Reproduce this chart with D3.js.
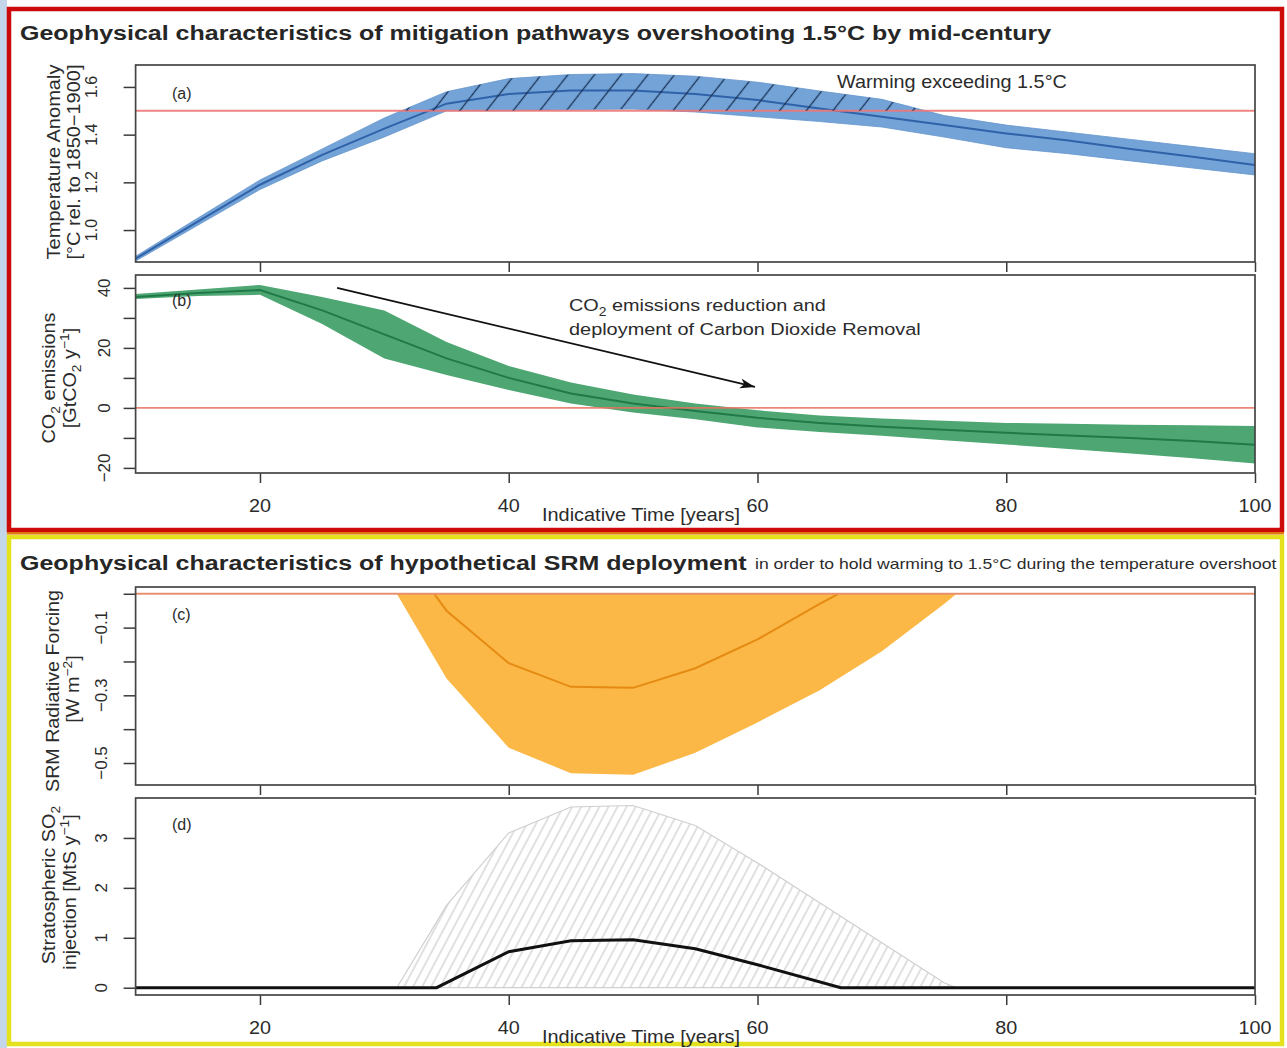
<!DOCTYPE html>
<html><head><meta charset="utf-8">
<script src="https://cdn.jsdelivr.net/npm/d3@7"></script>
<style>
body{margin:0;background:#fff}
svg{display:block}
text{font-family:"Liberation Sans",Arial,Helvetica,sans-serif;fill:#2b2b2b}
</style>
</head><body>
<svg id="chart" width="1287" height="1048"></svg>
<script>
// ---------------- data ----------------
const years = [10,15,20,25,30,35,40,45,50,55,60,65,70,75,80,85,90,95,100];
const tempMedian = [0.88,1.035,1.19,1.315,1.425,1.53,1.57,1.585,1.585,1.57,1.545,1.51,1.475,1.44,1.405,1.375,1.34,1.307,1.273];
const tempUpper  = [0.89,1.05,1.21,1.34,1.47,1.58,1.635,1.652,1.656,1.645,1.62,1.583,1.548,1.48,1.44,1.41,1.38,1.35,1.32];
const tempLower  = [0.87,1.02,1.17,1.29,1.39,1.50,1.50,1.505,1.507,1.495,1.475,1.455,1.432,1.39,1.345,1.32,1.29,1.26,1.231];
const tempThreshold = 1.5;

const co2Median = [37,38.3,39.3,32.5,24.5,16.5,10,4.8,1.5,-1,-3.3,-5,-6.3,-7.3,-8.3,-9.2,-10,-11,-12.3];
const co2Upper  = [38,39.5,41,37,32.5,22,14,8.5,4.5,1.5,-0.8,-2.5,-3.5,-4.3,-5,-5.3,-5.6,-5.8,-6];
const co2Lower  = [36.3,37.3,37.7,28,16.5,11,6,1.5,-1.5,-3.8,-6.5,-8,-9.3,-10.8,-12.2,-13.7,-15.2,-16.8,-18.5];
const co2Zero = 0;
const arrowFrom = [26.2, 40];
const arrowTo   = [59.8, 7];

const srmBandYears = [31,35,40,45,50,55,60,65,70,75,76];
const srmBandMin   = [0,-0.25,-0.455,-0.53,-0.535,-0.47,-0.38,-0.285,-0.17,-0.03,0];
const srmMedianYears = [34,35,40,45,50,55,60,65,66.5];
const srmMedian      = [0,-0.05,-0.205,-0.275,-0.278,-0.22,-0.135,-0.03,0];

const so2BandYears = [31,35,40,45,50,55,60,65,70,75,76];
const so2BandMax   = [0,1.65,3.1,3.62,3.65,3.25,2.5,1.7,0.9,0.1,0];
const so2MedianYears = [10,34.2,40,45,50,55,60,66.7,100];
const so2Median      = [0,0,0.72,0.94,0.96,0.78,0.46,0,0];

const xDomain = [10,100];
const xTicks = [20,40,60,80,100];
const tempDomain = [0.866,1.692], tempTicks = [1.0,1.2,1.4,1.6], tempLabels = [1.0,1.2,1.4,1.6];
const co2Domain = [-21.7,44.3], co2Ticks = [-20,-10,0,10,20,30,40], co2Labels = [-20,0,20,40];
const srmDomain = [-0.565,0.02], srmTicks = [0,-0.1,-0.2,-0.3,-0.4,-0.5], srmLabels = [-0.1,-0.3,-0.5];
const so2Domain = [-0.146,3.8], so2Ticks = [0,1,2,3], so2Labels = [0,1,2,3];

// ---------------- setup ----------------
const svg = d3.select('#chart');
const defs = svg.append('defs');
const x = d3.scaleLinear().domain(xDomain).range([135.6,1255]);
const L = x.range()[0], R = x.range()[1];

svg.append('rect').attr('width',1287).attr('height',1048).attr('fill','#fff');
svg.append('rect').attr('x',0).attr('y',0).attr('width',7).attr('height',1048).attr('fill','#c4d6ea');
svg.append('rect').attr('x',9).attr('y',9).attr('width',1273).attr('height',521)
  .attr('fill','none').attr('stroke','#cc0a0a').attr('stroke-width',4.5);
svg.append('rect').attr('x',9).attr('y',537).attr('width',1273).attr('height',507)
  .attr('fill','none').attr('stroke','#e4e21e').attr('stroke-width',4.5);
svg.append('rect').attr('x',7).attr('y',532).attr('width',1277).attr('height',2.5).attr('fill','#e07a10');

// hatch patterns
const pa = defs.append('pattern').attr('id','hatchA').attr('patternUnits','userSpaceOnUse')
  .attr('width',21).attr('height',21).attr('patternTransform','rotate(38)');
pa.append('line').attr('x1',10.5).attr('y1',0).attr('x2',10.5).attr('y2',21)
  .attr('stroke','#1a3457').attr('stroke-width',1.3);
const pd = defs.append('pattern').attr('id','hatchD').attr('patternUnits','userSpaceOnUse')
  .attr('width',8).attr('height',8).attr('patternTransform','rotate(28)');
pd.append('line').attr('x1',4).attr('y1',0).attr('x2',4).attr('y2',8)
  .attr('stroke','#c2c2c2').attr('stroke-width',1);
defs.append('marker').attr('id','arrow').attr('markerUnits','userSpaceOnUse')
  .attr('markerWidth',16).attr('markerHeight',12).attr('refX',15).attr('refY',5)
  .attr('orient','auto').append('path').attr('d','M0,0 L15,5 L0,10 L4,5 Z').attr('fill','#111');

// text helper: segs = [[string, 'sub'|'sup'|'']]
function txt(parent, px, py, segs, o) {
  o = o || {};
  const size = o.size || 16;
  const t = parent.append('text').attr('font-size', size)
    .attr('font-weight', o.weight || 'normal')
    .attr('text-anchor', o.anchor || 'start');
  if (o.fill) t.style('fill', o.fill);
  let cur = 0;
  segs.forEach(s => {
    const type = s[1] || '';
    const off = type === 'sub' ? size*0.3 : type === 'sup' ? -size*0.4 : 0;
    const ts = t.append('tspan').text(s[0]).attr('dy', off - cur);
    if (type) ts.attr('font-size', size*0.7);
    cur = off;
  });
  const w = t.node().getComputedTextLength();
  const sx = o.len ? o.len / w : (o.sx || 1);
  t.attr('transform', `translate(${px},${py}) rotate(${o.rot||0}) scale(${sx},1)`);
  return t;
}

function makePanel(id, top, bottom, domain, ticks, labels, fmt, labelX, opts) {
  const y = d3.scaleLinear().domain(domain).range([bottom, top]);
  const g = svg.append('g');
  defs.append('clipPath').attr('id','clip'+id).append('rect')
    .attr('x',L).attr('y',top).attr('width',R-L).attr('height',bottom-top);
  const plot = g.append('g').attr('clip-path',`url(#clip${id})`);
  const ya = g.append('g').attr('transform',`translate(${L},0)`)
    .call(d3.axisLeft(y).tickValues(ticks).tickSize(12).tickFormat(''));
  ya.select('.domain').remove();
  ya.selectAll('line').attr('stroke','#3a3a3a').attr('stroke-width',1.5);
  labels.forEach(v => txt(g, labelX, y(v), [[fmt(v)]], {size: opts.tickSize || 17, anchor:'middle', rot:-90}));
  const xa = g.append('g').attr('transform',`translate(0,${bottom})`)
    .call(d3.axisBottom(x).tickValues(xTicks).tickSize(10).tickFormat(''));
  xa.select('.domain').remove();
  xa.selectAll('line').attr('stroke','#3a3a3a').attr('stroke-width',1.5);
  if (opts.xlabels) {
    xTicks.forEach(v => txt(g, x(v), bottom + 39, [[String(v)]], {size:18, anchor:'middle', sx:1.1}));
    txt(g, 641, bottom + 48, [['Indicative Time [years]']], {size:18, anchor:'middle', len:198});
  }
  return {y, g, plot, top, bottom};
}

const fmt1 = d3.format('.1f'), fmt0 = d3.format('d');

// ---------------- titles ----------------
txt(svg, 20, 40, [['Geophysical characteristics of mitigation pathways overshooting 1.5°C by mid-century']],
  {size:21, weight:'bold', len:1032, fill:'#262626'});
txt(svg, 20, 570, [['Geophysical characteristics of hypothetical SRM deployment']],
  {size:21, weight:'bold', len:727, fill:'#262626'});
txt(svg, 755, 569, [['in order to hold warming to 1.5°C during the temperature overshoot']],
  {size:14, len:522});

// ---------------- panel a ----------------
const A = makePanel('a', 65, 262, tempDomain, tempTicks, tempLabels, fmt1, 97, {tickSize:16});
const tempData = years.map((yr,i)=>({yr, m:tempMedian[i], u:tempUpper[i], l:tempLower[i]}));
A.plot.append('path').datum(tempData)
  .attr('d', d3.area().x(d=>x(d.yr)).y0(d=>A.y(d.l)).y1(d=>A.y(d.u)))
  .attr('fill','#74a3d7');
['u','l'].forEach(k => A.plot.append('path').datum(tempData)
  .attr('d', d3.line().x(d=>x(d.yr)).y(d=>A.y(d[k])))
  .attr('fill','none').attr('stroke','#6595cd').attr('stroke-width',0.8));
A.plot.append('path').datum(tempData)
  .attr('d', d3.line().x(d=>x(d.yr)).y(d=>A.y(d.m)))
  .attr('fill','none').attr('stroke','#2f62a8').attr('stroke-width',2);
A.plot.append('line').attr('x1',L).attr('x2',R).attr('y1',A.y(tempThreshold)).attr('y2',A.y(tempThreshold))
  .attr('stroke','#ee7777').attr('stroke-width',2).attr('opacity',0.9);
// hatched part of the band above the threshold (insert exact crossing points)
const hatchPts = [];
for (let i = 0; i < tempData.length; i++) {
  const d = tempData[i];
  if (i > 0) {
    const p = tempData[i-1];
    if ((p.u - tempThreshold) * (d.u - tempThreshold) < 0) {
      const t = (tempThreshold - p.u) / (d.u - p.u);
      const yr = p.yr + t * (d.yr - p.yr);
      const l = p.l + t * (d.l - p.l);
      hatchPts.push({yr, u:tempThreshold, l});
    }
  }
  hatchPts.push(d);
}
A.plot.append('path').datum(hatchPts)
  .attr('d', d3.area().x(d=>x(d.yr))
    .y0(d=>A.y(Math.max(d.l, tempThreshold))).y1(d=>A.y(Math.max(d.u, tempThreshold))))
  .attr('fill','url(#hatchA)');
A.g.append('rect').attr('x',L).attr('y',65).attr('width',R-L).attr('height',262-65)
  .attr('fill','none').attr('stroke','#454545').attr('stroke-width',1.7);
txt(A.g, 172, 99, [['(a)']], {size:16});
txt(A.g, 837, 88, [['Warming exceeding 1.5°C']], {size:18, len:230});
txt(A.g, 60, 162, [['Temperature Anomaly']], {size:18, anchor:'middle', rot:-90, len:195});
txt(A.g, 80, 162, [['[°C rel. to 1850−1900]']], {size:18, anchor:'middle', rot:-90, len:195});

// ---------------- panel b ----------------
const B = makePanel('b', 275, 473, co2Domain, co2Ticks, co2Labels, fmt0, 110, {xlabels:true});
const co2Data = years.map((yr,i)=>({yr, m:co2Median[i], u:co2Upper[i], l:co2Lower[i]}));
B.plot.append('path').datum(co2Data)
  .attr('d', d3.area().x(d=>x(d.yr)).y0(d=>B.y(d.l)).y1(d=>B.y(d.u)))
  .attr('fill','#4ea673');
B.plot.append('path').datum(co2Data)
  .attr('d', d3.line().x(d=>x(d.yr)).y(d=>B.y(d.m)))
  .attr('fill','none').attr('stroke','#1f7a48').attr('stroke-width',2);
B.plot.append('line').attr('x1',L).attr('x2',R).attr('y1',B.y(co2Zero)).attr('y2',B.y(co2Zero))
  .attr('stroke','#e8735f').attr('stroke-width',1.6).attr('opacity',0.85);
B.plot.append('line')
  .attr('x1',x(arrowFrom[0])).attr('y1',B.y(arrowFrom[1]))
  .attr('x2',x(arrowTo[0])).attr('y2',B.y(arrowTo[1]))
  .attr('stroke','#111').attr('stroke-width',1.7).attr('marker-end','url(#arrow)');
B.g.append('rect').attr('x',L).attr('y',275).attr('width',R-L).attr('height',473-275)
  .attr('fill','none').attr('stroke','#454545').attr('stroke-width',1.7);
txt(B.g, 172, 306, [['(b)']], {size:16});
txt(B.g, 569, 311, [['CO'],['2','sub'],[' emissions reduction and']], {size:17, len:257});
txt(B.g, 569, 335, [['deployment of Carbon Dioxide Removal']], {size:17, len:352});
txt(B.g, 55, 378, [['CO'],['2','sub'],[' emissions']], {size:18, anchor:'middle', rot:-90, sx:1.1});
txt(B.g, 76, 378, [['[GtCO'],['2','sub'],[' y'],['−1','sup'],[']']], {size:18, anchor:'middle', rot:-90, sx:1.1});

// ---------------- panel c ----------------
const C = makePanel('c', 587, 785, srmDomain, srmTicks, srmLabels, fmt1, 107, {});
const srmBand = srmBandYears.map((yr,i)=>({yr, v:srmBandMin[i]}));
C.plot.append('path').datum(srmBand)
  .attr('d', d3.area().x(d=>x(d.yr)).y0(C.y(0)).y1(d=>C.y(d.v)))
  .attr('fill','#fbb846');
const srmMed = srmMedianYears.map((yr,i)=>({yr, v:srmMedian[i]}));
C.plot.append('path').datum(srmMed)
  .attr('d', d3.line().x(d=>x(d.yr)).y(d=>C.y(d.v)))
  .attr('fill','none').attr('stroke','#e58a12').attr('stroke-width',2);
C.plot.append('line').attr('x1',L).attr('x2',R).attr('y1',C.y(0)).attr('y2',C.y(0))
  .attr('stroke','#e8906e').attr('stroke-width',2.2);
C.g.append('rect').attr('x',L).attr('y',587).attr('width',R-L).attr('height',785-587)
  .attr('fill','none').attr('stroke','#454545').attr('stroke-width',1.7);
txt(C.g, 172, 620, [['(c)']], {size:16});
txt(C.g, 59, 691, [['SRM Radiative Forcing']], {size:18, anchor:'middle', rot:-90, len:202});
txt(C.g, 79, 689, [['[W m'],['−2','sup'],[']']], {size:18, anchor:'middle', rot:-90, sx:1.1});

// ---------------- panel d ----------------
const D = makePanel('d', 798, 995, so2Domain, so2Ticks, so2Labels, fmt0, 107, {xlabels:true});
const so2Band = so2BandYears.map((yr,i)=>({yr, v:so2BandMax[i]}));
D.plot.append('path').datum(so2Band)
  .attr('d', d3.area().x(d=>x(d.yr)).y0(D.y(0)).y1(d=>D.y(d.v)))
  .attr('fill','url(#hatchD)').attr('stroke','#cfcfcf').attr('stroke-width',1.2);
const so2Med = so2MedianYears.map((yr,i)=>({yr, v:so2Median[i]}));
D.plot.append('path').datum(so2Med)
  .attr('d', d3.line().x(d=>x(d.yr)).y(d=>D.y(d.v)))
  .attr('fill','none').attr('stroke','#111').attr('stroke-width',3);
D.g.append('rect').attr('x',L).attr('y',798).attr('width',R-L).attr('height',995-798)
  .attr('fill','none').attr('stroke','#454545').attr('stroke-width',1.7);
txt(D.g, 172, 830, [['(d)']], {size:16});
txt(D.g, 55, 885, [['Stratospheric SO'],['2','sub']], {size:18, anchor:'middle', rot:-90, sx:1.1});
txt(D.g, 76, 892, [['injection [MtS y'],['−1','sup'],[']']], {size:18, anchor:'middle', rot:-90, sx:1.1});
</script>
</body></html>
